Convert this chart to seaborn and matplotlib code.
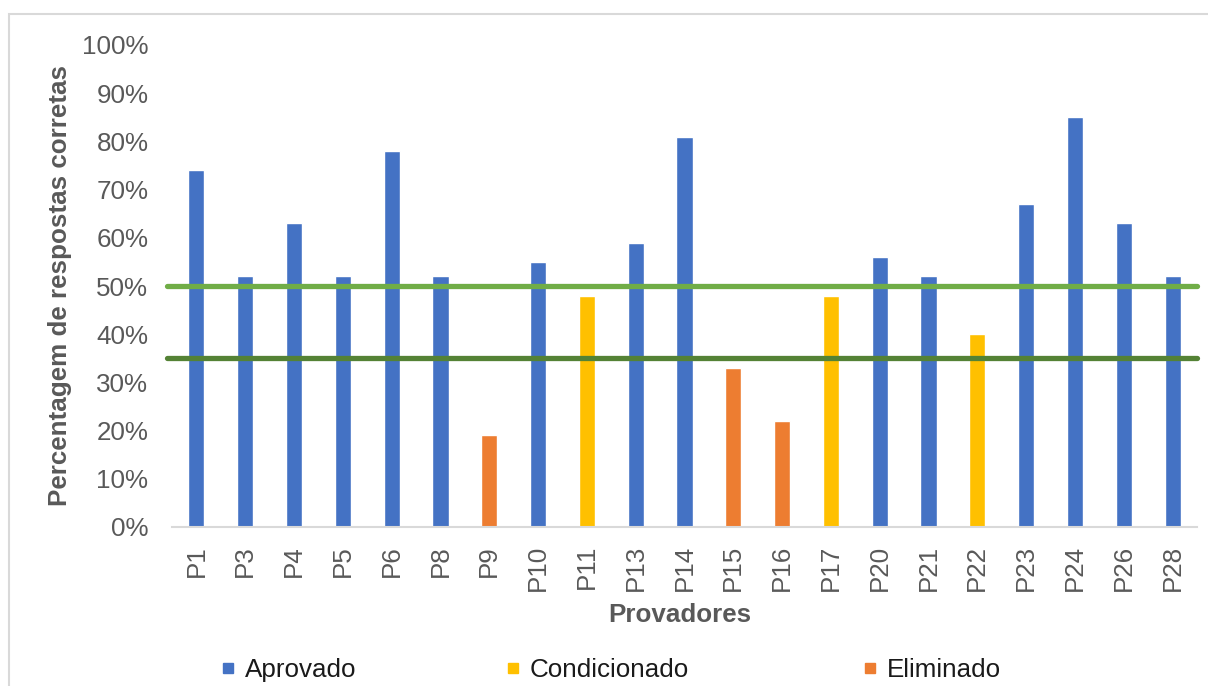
import matplotlib
matplotlib.use("Agg")
import matplotlib.pyplot as plt
from matplotlib.lines import Line2D
from matplotlib.patches import Rectangle
from matplotlib.ticker import FuncFormatter
import seaborn as sns
import pandas as pd

# Desempenho de cada provador no teste de seleção
provadores = ["P1", "P3", "P4", "P5", "P6", "P8", "P9", "P10", "P11", "P13", "P14",
              "P15", "P16", "P17", "P20", "P21", "P22", "P23", "P24", "P26", "P28"]
acertos = [74, 52, 63, 52, 78, 52, 19, 55, 48, 59, 81,
           33, 22, 48, 56, 52, 40, 67, 85, 63, 52]
situacao = ["Aprovado", "Aprovado", "Aprovado", "Aprovado", "Aprovado", "Aprovado",
            "Eliminado", "Aprovado", "Condicionado", "Aprovado", "Aprovado",
            "Eliminado", "Eliminado", "Condicionado", "Aprovado", "Aprovado",
            "Condicionado", "Aprovado", "Aprovado", "Aprovado", "Aprovado"]
categorias = ["Aprovado", "Condicionado", "Eliminado"]
cores = {"Aprovado": "#4472C4", "Condicionado": "#FFC000", "Eliminado": "#ED7D31"}
limite_aprovacao = 50
limite_eliminacao = 35

df = pd.DataFrame({"Provador": provadores, "Acertos": acertos, "Situacao": situacao})

sns.set_style("white")
plt.rcParams["font.family"] = ["Liberation Sans", "DejaVu Sans"]

W, H = 1208, 686
fig = plt.figure(figsize=(W / 100, H / 100), dpi=100)
ax = fig.add_axes([172 / W, 1 - 527 / H, (1197 - 172) / W, (527 - 45) / H])

sns.barplot(data=df, x="Provador", y="Acertos", hue="Situacao", hue_order=categorias,
            palette=cores, dodge=False, width=0.33, saturation=1, legend=False, ax=ax)

ax.axhline(limite_aprovacao, xmin=-0.005, xmax=1, color="#70AD47", lw=3.8,
           clip_on=False, zorder=5)
ax.axhline(limite_eliminacao, xmin=-0.005, xmax=1, color="#548235", lw=3.8,
           clip_on=False, zorder=5)

ax.set_ylim(0, 100)
ax.set_xlim(-0.5, len(provadores) - 0.5)
ax.set_yticks(range(0, 101, 10))
ax.yaxis.set_major_formatter(FuncFormatter(lambda v, _: f"{v:.0f}%"))

fs = 18.7
txt = "#595959"
ax.tick_params(axis="y", length=0, pad=17, labelsize=fs, labelcolor=txt)
ax.tick_params(axis="x", length=0, pad=13, labelsize=fs, labelcolor=txt, rotation=90)

for s in ["top", "right", "left"]:
    ax.spines[s].set_visible(False)
ax.spines["bottom"].set_color("#D9D9D9")
ax.spines["bottom"].set_linewidth(1.5)

ax.set_xlabel("")
ax.set_ylabel("")
fig.text(60 / W, 1 - 285 / H, "Percentagem de respostas corretas", rotation=90,
         ha="center", va="center", fontsize=fs, fontweight="bold", color=txt)
fig.text(680 / W, 1 - 615 / H, "Provadores", ha="center", va="center",
         fontsize=fs, fontweight="bold", color=txt)

# Legenda com uma entrada por situação
marcador_x = [228, 513, 870]
for cat, mx in zip(categorias, marcador_x):
    h = Line2D([], [], marker="s", linestyle="none", markersize=7,
               markerfacecolor=cores[cat], markeredgecolor=cores[cat])
    fig.legend([h], [cat], loc="center left",
               bbox_to_anchor=((mx - 6.5) / W, 1 - 670 / H),
               frameon=False, fontsize=fs, handlelength=0.5, handletextpad=0.4,
               borderpad=0, borderaxespad=0, labelcolor="#1a1a1a")

fig.patches.append(Rectangle((9 / W, -0.2), 1.2, 0.2 + (1 - 14 / H), fill=False,
                             edgecolor="#D9D9D9", lw=1.5, transform=fig.transFigure))

fig.savefig("out.png", dpi=100)
